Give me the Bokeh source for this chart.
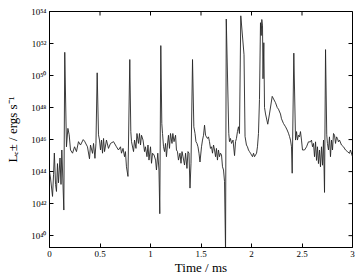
import math
from bokeh.plotting import figure
from bokeh.models import FixedTicker, CustomJSTickFormatter, Range1d
from bokeh.embed import file_html
from bokeh.resources import INLINE

# time in ms
time_ms = [0.000, 0.010, 0.030, 0.040, 0.048, 0.060, 0.069, 0.079, 0.089, 0.104,
           0.114, 0.122, 0.129, 0.142, 0.151, 0.168, 0.182, 0.195, 0.208, 0.228,
           0.248, 0.267, 0.287, 0.307, 0.334, 0.347, 0.376, 0.396, 0.406, 0.426,
           0.436, 0.450, 0.460, 0.472, 0.485, 0.495, 0.505, 0.515, 0.525, 0.535,
           0.545, 0.564, 0.584, 0.604, 0.634, 0.663, 0.683, 0.703, 0.713, 0.728,
           0.743, 0.752, 0.762, 0.777, 0.795, 0.805, 0.812, 0.832, 0.842, 0.856,
           0.866, 0.881, 0.891, 0.901, 0.911, 0.926, 0.941, 0.950, 0.965, 0.975,
           0.985, 1.000, 1.010, 1.020, 1.035, 1.050, 1.059, 1.072, 1.084, 1.092,
           1.102, 1.112, 1.119, 1.129, 1.139, 1.149, 1.158, 1.168, 1.178, 1.188,
           1.198, 1.213, 1.221, 1.233, 1.248, 1.257, 1.267, 1.277, 1.292, 1.302,
           1.312, 1.322, 1.337, 1.347, 1.361, 1.371, 1.381, 1.391, 1.401, 1.416,
           1.429, 1.441, 1.450, 1.460, 1.470, 1.480, 1.490, 1.505, 1.515, 1.525,
           1.535, 1.545, 1.554, 1.564, 1.574, 1.584, 1.594, 1.604, 1.614, 1.624,
           1.634, 1.644, 1.653, 1.663, 1.673, 1.683, 1.693, 1.703, 1.713, 1.723,
           1.733, 1.743, 1.750, 1.775, 1.782, 1.792, 1.802, 1.817, 1.832, 1.842,
           1.851, 1.861, 1.871, 1.881, 1.894, 1.926, 1.936, 1.950, 1.960, 1.970,
           1.980, 1.990, 2.000, 2.010, 2.020, 2.030, 2.040, 2.050, 2.059, 2.069,
           2.079, 2.089, 2.096, 2.102, 2.109, 2.114, 2.122, 2.129, 2.139, 2.161,
           2.178, 2.205, 2.238, 2.255, 2.267, 2.287, 2.297, 2.317, 2.337, 2.353,
           2.366, 2.376, 2.386, 2.396, 2.403, 2.419, 2.436, 2.446, 2.455, 2.465,
           2.475, 2.485, 2.495, 2.505, 2.525, 2.545, 2.564, 2.584, 2.594, 2.604,
           2.614, 2.624, 2.634, 2.644, 2.653, 2.663, 2.673, 2.683, 2.693, 2.703,
           2.713, 2.723, 2.733, 2.745, 2.752, 2.762, 2.772, 2.782, 2.792, 2.802,
           2.812, 2.822, 2.832, 2.842, 2.851, 2.861, 2.871, 2.891, 2.911, 2.931,
           2.950, 2.970, 2.980, 3.000]

# log10 of luminosity (ergs/s)
log_L = [44.0, 43.6, 42.45, 43.8, 45.16, 43.2, 42.76, 44.5, 43.3, 44.85,
         43.2, 45.35, 44.1, 41.6, 51.45, 45.55, 46.7, 46.3, 45.35, 45.15,
         45.55, 45.25, 45.87, 45.66, 46.0, 45.9, 45.55, 44.8, 45.66, 45.14,
         45.76, 44.83, 45.76, 50.17, 46.3, 45.97, 45.35, 45.97, 45.15, 46.07,
         45.25, 45.97, 45.45, 45.76, 45.87, 45.55, 45.35, 45.55, 45.15, 45.45,
         44.93, 45.25, 44.3, 43.7, 51.0, 46.5, 45.87, 45.25, 45.97, 45.45,
         46.38, 45.76, 46.38, 45.66, 46.27, 45.97, 45.25, 45.55, 44.93, 45.66,
         44.72, 45.55, 44.52, 45.15, 45.04, 44.72, 44.1, 45.15, 44.1, 41.37,
         51.87, 47.0, 46.38, 45.55, 45.25, 45.76, 44.93, 45.66, 46.27, 45.45,
         46.38, 45.76, 46.38, 45.87, 46.27, 45.35, 45.25, 44.72, 45.15, 44.52,
         45.25, 44.93, 44.41, 45.15, 44.2, 45.25, 45.15, 42.97, 44.52, 51.0,
         46.8, 46.38, 45.87, 45.76, 45.55, 45.15, 44.6, 45.55, 45.97, 46.27,
         46.9, 46.27, 46.17, 46.07, 46.17, 45.87, 45.45, 45.55, 45.15, 45.66,
         45.35, 44.93, 45.45, 44.72, 45.35, 44.93, 45.15, 45.04, 44.3, 44.1,
         43.37, 39.0, 53.53, 46.38, 45.87, 46.07, 45.76, 45.97, 45.0, 45.87,
         46.07, 46.5, 46.8, 46.38, 53.73, 51.3, 46.2, 45.66, 45.55, 45.35,
         45.25, 45.15, 45.04, 44.93, 45.15, 44.93, 45.04, 45.15, 45.55, 46.38,
         48.5, 53.3, 52.5, 53.5, 53.1, 49.8, 52.05, 48.0, 47.6, 46.96,
         47.6, 48.7, 48.3, 48.0, 47.9, 47.6, 47.3, 47.0, 46.8, 46.6,
         46.4, 46.2, 45.97, 45.55, 43.9, 51.4, 45.97, 46.5, 45.97, 46.27,
         46.17, 46.5, 45.97, 45.35, 45.35, 45.55, 45.86, 45.86, 45.97, 45.55,
         45.76, 44.93, 45.86, 44.7, 45.55, 44.5, 45.35, 44.3, 45.55, 44.4,
         45.97, 42.7, 51.62, 46.3, 45.76, 45.35, 46.17, 44.93, 45.97, 45.35,
         46.38, 46.27, 45.76, 46.17, 46.07, 45.86, 45.97, 45.66, 45.55, 45.35,
         45.25, 45.14, 45.35, 44.93]

x_ticks = [0, 0.5, 1, 1.5, 2, 2.5, 3]
y_tick_exponents = [40, 42, 44, 46, 48, 50, 52, 54]

L = [10 ** v for v in log_L]
y_ticks = [10.0 ** e for e in y_tick_exponents]

X_MIN, X_MAX = 0, 3
Y_MIN, Y_MAX = 10 ** 39.26, 1e54

FONT = "Liberation Serif"

p = figure(width=357, height=277, x_range=Range1d(X_MIN, X_MAX),
           y_range=Range1d(Y_MIN, Y_MAX), y_axis_type="log",
           output_backend="svg", toolbar_location=None,
           min_border_left=49, min_border_right=5, min_border_top=11,
           min_border_bottom=29)

p.line(time_ms, L, line_color="#262626", line_width=0.9)

# mirrored inward ticks on the top and right edges (clipped to the frame)
p.scatter(x=x_ticks, y=[Y_MAX] * len(x_ticks), marker="dash", angle=math.pi / 2,
          size=8, line_color="black", line_width=1)
p.scatter(x=[X_MAX] * len(y_ticks), y=y_ticks, marker="dash", angle=0,
          size=8, line_color="black", line_width=1)

p.xgrid.visible = False
p.ygrid.visible = False
p.outline_line_color = "black"
p.outline_line_width = 1
p.background_fill_color = "white"
p.border_fill_color = "white"

sup_js = """
const m = {"0":"\u2070","1":"\u00b9","2":"\u00b2","3":"\u00b3","4":"\u2074",
           "5":"\u2075","6":"\u2076","7":"\u2077","8":"\u2078","9":"\u2079","-":"\u207b"};
const e = Math.round(Math.log10(tick));
return "10" + String(e).split("").map(c => m[c]).join("");
"""

xa = p.xaxis[0]
xa.ticker = FixedTicker(ticks=x_ticks)
xa.axis_label = "Time / ms"
ya = p.yaxis[0]
ya.ticker = FixedTicker(ticks=y_ticks)
ya.formatter = CustomJSTickFormatter(code=sup_js)
ya.axis_label = "L\u2091\u00b1 / ergs s\u207b\u00b9"

for ax in (xa, ya):
    ax.major_tick_in = 4
    ax.major_tick_out = 0
    ax.minor_tick_line_color = None
    ax.axis_line_color = "black"
    ax.major_tick_line_color = "black"
    ax.major_label_text_font = FONT
    ax.major_label_text_font_size = "9px"
    ax.major_label_text_color = "black"
    ax.axis_label_text_font = FONT
    ax.axis_label_text_font_style = "normal"
    ax.axis_label_text_font_size = "13px"
    ax.axis_label_text_color = "black"

xa.major_label_standoff = 3
xa.axis_label_standoff = 0
ya.major_label_standoff = 3
ya.axis_label_standoff = 8

open("out.html", "w").write(file_html(p, INLINE))
